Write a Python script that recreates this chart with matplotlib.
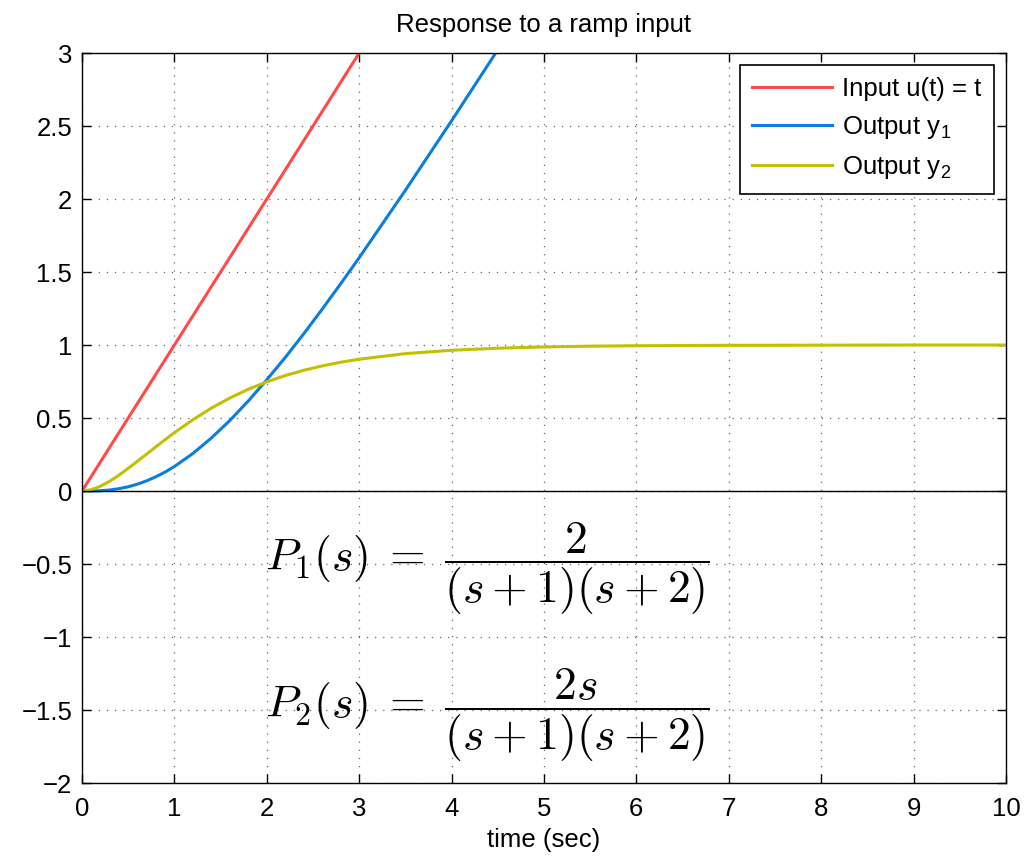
import matplotlib
matplotlib.use("Agg")
import matplotlib.pyplot as plt

# data
t_in = [0, 3.3]
u_in = [0, 3.3]

t_y1 = [0, 0.1, 0.2, 0.3, 0.4, 0.5, 0.6, 0.7, 0.8, 0.9, 1.0, 1.2, 1.4, 1.6, 1.8, 2.0,
        2.2, 2.4, 2.6, 2.8, 3.0, 3.5, 4.0, 4.5, 4.8]
y1 = [0, 0.000, 0.002, 0.007, 0.016, 0.029, 0.047, 0.070, 0.098, 0.130, 0.168, 0.257,
      0.363, 0.483, 0.617, 0.762, 0.915, 1.077, 1.246, 1.420, 1.598, 2.060, 2.536, 3.022, 3.316]

t_y2 = [0, 0.1, 0.2, 0.3, 0.4, 0.5, 0.6, 0.7, 0.8, 0.9, 1.0, 1.2, 1.4, 1.6, 1.8, 2.0,
        2.2, 2.4, 2.6, 2.8, 3.0, 3.5, 4.0, 4.5, 5.0, 5.5, 6.0, 7.0, 8.0, 9.0, 10.0]
y2 = [0, 0.009, 0.033, 0.067, 0.109, 0.155, 0.204, 0.253, 0.303, 0.352, 0.400, 0.488,
      0.568, 0.637, 0.697, 0.748, 0.791, 0.827, 0.857, 0.882, 0.903, 0.941, 0.964,
      0.978, 0.987, 0.992, 0.995, 0.998, 0.999, 1.0, 1.0]

xticks = list(range(0, 11))
yticks = [-2, -1.5, -1, -0.5, 0, 0.5, 1, 1.5, 2, 2.5, 3]
ytick_labels = ["\u22122", "\u22121.5", "\u22121", "\u22120.5", "0", "0.5", "1", "1.5", "2", "2.5", "3"]

plt.rcParams['font.family'] = ['Liberation Sans', 'DejaVu Sans']
plt.rcParams['mathtext.fontset'] = 'cm'

FS = 18.5

fig = plt.figure(figsize=(10.29, 8.58), dpi=100)
ax = fig.add_axes([0.0797, 0.0874, 0.8979, 0.8508])

ax.plot(t_in, u_in, color='#ff4a4a', lw=2.2, label='Input u(t) = t')
ax.plot(t_y1, y1, color='#0a7de0', lw=2.2, label='Output y$_\\mathregular{1}$')
ax.plot(t_y2, y2, color='#c2c000', lw=2.2, label='Output y$_\\mathregular{2}$')
ax.axhline(0, color='black', lw=1.0)

ax.set_xlim(0, 10)
ax.set_ylim(-2, 3)
ax.set_xticks(xticks)
ax.set_yticks(yticks)
ax.set_yticklabels(ytick_labels)
ax.tick_params(direction='in', length=6.5, width=1, labelsize=FS, top=True, right=True)
ax.tick_params(axis='x', pad=10)
ax.tick_params(axis='y', pad=7)
ax.grid(True, linestyle=(0, (1, 5.5)), color='#666666', lw=0.9)
for s in ax.spines.values():
    s.set_linewidth(1.0)

ax.set_title('Response to a ramp input', fontsize=FS, pad=15)
ax.set_xlabel('time (sec)', fontsize=FS, labelpad=5)

leg = ax.legend(loc='upper right', fontsize=FS, frameon=True, fancybox=False,
                edgecolor='black', framealpha=1, borderaxespad=0.45,
                handlelength=3.1, handletextpad=0.4, labelspacing=0.5, borderpad=0.5)
leg.get_frame().set_linewidth(1.2)

ax.text(1.98, -0.53, r'$P_1(s)\;=\;\dfrac{2}{(s+1)(s+2)}$', fontsize=33, va='center', ha='left')
ax.text(1.98, -1.53, r'$P_2(s)\;=\;\dfrac{2s}{(s+1)(s+2)}$', fontsize=33, va='center', ha='left')

fig.savefig('out.png', dpi=100)
